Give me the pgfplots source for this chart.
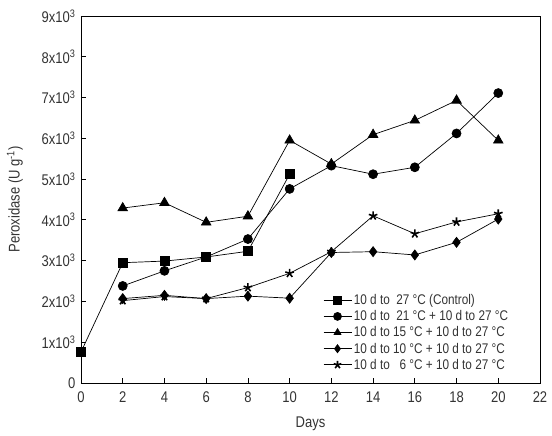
\documentclass[border=0pt]{standalone}
\usepackage{pgfplots}
\pgfplotsset{compat=1.18}
\usepackage{fontspec}
\setmainfont{Liberation Sans}[FakeStretch=0.84]
\definecolor{txt}{HTML}{333333}
\begin{document}
\begin{tikzpicture}
\useasboundingbox (-81pt,-53pt) rectangle (471pt,383pt);
\begin{axis}[
  scale only axis,
  width=459pt, height=367pt,
  xmin=0, xmax=22, ymin=0, ymax=9,
  xtick={0,2,...,22},
  ytick={0,1,...,9},
  yticklabels={0,1x10\textsuperscript{3},2x10\textsuperscript{3},3x10\textsuperscript{3},4x10\textsuperscript{3},5x10\textsuperscript{3},6x10\textsuperscript{3},7x10\textsuperscript{3},8x10\textsuperscript{3},9x10\textsuperscript{3}},
  /pgf/number format/assume math mode=true,
  tick pos=left,
  tick align=inside,
  major tick length=5pt,
  tick style={black, line width=0.8pt},
  axis line style={black, line width=0.9pt},
  ticklabel style={font=\fontsize{15.5}{17}\selectfont, text=txt},
  xticklabel style={yshift=-5pt},
  yticklabel style={xshift=-2pt},
  xlabel={Days},
  ylabel={Peroxidase (U g\textsuperscript{-1})},
  label style={font=\fontsize{15.5}{17}\selectfont, text=txt},
  xlabel style={at={(axis description cs:0.5,-0.11)}, anchor=center},
  ylabel style={at={(axis description cs:-0.144,0.5)}, anchor=center},
  every axis plot/.append style={black, line width=0.7pt, mark size=4.5pt, mark options={solid, fill=black}},
  legend style={draw=none, fill=none, at={(0.525,0.25)}, anchor=north west,
    font=\fontsize{14}{15}\selectfont, text=txt, row sep=0.5pt, inner sep=1pt},
  legend cell align=left,
  legend image code/.code={
    \draw[#1] (0pt,0pt) -- (28pt,0pt);
    \draw[#1, mark size=4pt] plot coordinates {(14pt,0pt)};
  },
  clip=false,
]
% control
\addplot[mark=square*] coordinates {
  (0,0.76) (2,2.95) (4,2.99) (6,3.09) (8,3.23) (10,5.12)
};
% 21 C
\addplot[mark=*] coordinates {
  (2,2.38) (4,2.75) (6,3.09) (8,3.53) (10,4.76) (12,5.33) (14,5.12) (16,5.29) (18,6.12) (20,7.11)
};
% 15 C
\addplot[mark=triangle*, mark size=5.5pt] coordinates {
  (2,4.29) (4,4.42) (6,3.94) (8,4.09) (10,5.95) (12,5.37) (14,6.09) (16,6.44) (18,6.93) (20,5.95)
};
% 10 C
\addplot[mark=diamond*, mark size=5pt] coordinates {
  (2,2.07) (4,2.15) (6,2.07) (8,2.13) (10,2.08) (12,3.20) (14,3.22) (16,3.14) (18,3.45) (20,4.02)
};
% 6 C
\addplot[mark=star, mark options={line width=1.6pt}] coordinates {
  (2,2.02) (4,2.12) (6,2.07) (8,2.34) (10,2.69) (12,3.22) (14,4.10) (16,3.66) (18,3.95) (20,4.15)
};
\legend{10 d to\ \ 27 °C (Control),
        10 d to\ \ 21 °C + 10 d to 27 °C,
        10 d to 15 °C + 10 d to 27 °C,
        10 d to 10 °C + 10 d to 27 °C,
        10 d to\ \ \ 6 °C + 10 d to 27 °C}
\end{axis}
\end{tikzpicture}
\end{document}
